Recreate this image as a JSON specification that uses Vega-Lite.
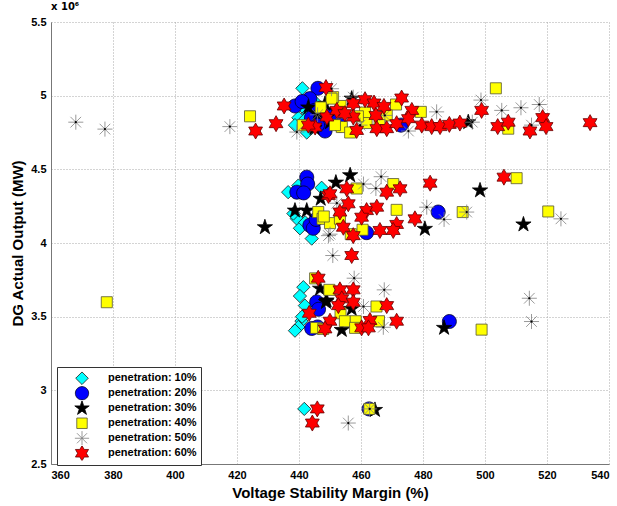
{
  "$schema": "https://vega.github.io/schema/vega-lite/v6.json",
  "width": 558,
  "height": 442,
  "autosize": "none",
  "padding": {"left": 51, "top": 22, "right": 8, "bottom": 42},
  "background": "white",
  "title": {"text": "x 10⁶", "anchor": "start", "frame": "group", "fontSize": 10, "fontWeight": "bold", "font": "DejaVu Sans", "offset": 4, "color": "black"},
  "config": {
    "view": {"stroke": null},
    "axis": {
      "labelFont": "Liberation Sans", "labelFontSize": 11, "labelFontWeight": "bold", "labelColor": "black",
      "titleFont": "Liberation Sans", "titleFontSize": 15, "titleFontWeight": "bold", "titleColor": "black",
      "grid": true, "gridColor": "#a8a8a8", "gridDash": [1, 2], "gridWidth": 1,
      "domainColor": "#777777", "ticks": false, "labelPadding": 5, "titlePadding": 5
    },
    "legend": {
      "orient": "none", "legendX": 6, "legendY": 345, "title": null,
      "strokeColor": "#333333", "fillColor": "white", "padding": 4,
      "symbolOffset": 13, "labelOffset": 18, "symbolSize": 230, "symbolStrokeWidth": 0.8,
      "labelFont": "Liberation Sans", "labelFontSize": 11, "labelFontWeight": "bold", "labelColor": "black",
      "rowPadding": 0, "clipHeight": 14.5
    }
  },
  "data": {"values": [
    {"series": "penetration: 10%", "margin": 441.1, "output": 5050000},
    {"series": "penetration: 10%", "margin": 441.3, "output": 4920000},
    {"series": "penetration: 10%", "margin": 439.8, "output": 4850000},
    {"series": "penetration: 10%", "margin": 438.7, "output": 4800000},
    {"series": "penetration: 10%", "margin": 442.5, "output": 4750000},
    {"series": "penetration: 10%", "margin": 443.0, "output": 4880000},
    {"series": "penetration: 10%", "margin": 445.0, "output": 4960000},
    {"series": "penetration: 10%", "margin": 444.0, "output": 4780000},
    {"series": "penetration: 10%", "margin": 447.0, "output": 4820000},
    {"series": "penetration: 10%", "margin": 446.0, "output": 4900000},
    {"series": "penetration: 10%", "margin": 442.0, "output": 4840000},
    {"series": "penetration: 10%", "margin": 448.0, "output": 4880000},
    {"series": "penetration: 10%", "margin": 436.5, "output": 4345000},
    {"series": "penetration: 10%", "margin": 439.8, "output": 4390000},
    {"series": "penetration: 10%", "margin": 447.3, "output": 4375000},
    {"series": "penetration: 10%", "margin": 439.3, "output": 4165000},
    {"series": "penetration: 10%", "margin": 440.3, "output": 4100000},
    {"series": "penetration: 10%", "margin": 444.1, "output": 4030000},
    {"series": "penetration: 10%", "margin": 438.2, "output": 4200000},
    {"series": "penetration: 10%", "margin": 442.0, "output": 4140000},
    {"series": "penetration: 10%", "margin": 441.0, "output": 4350000},
    {"series": "penetration: 10%", "margin": 441.4, "output": 3700000},
    {"series": "penetration: 10%", "margin": 440.3, "output": 3640000},
    {"series": "penetration: 10%", "margin": 441.9, "output": 3575000},
    {"series": "penetration: 10%", "margin": 440.8, "output": 3470000},
    {"series": "penetration: 10%", "margin": 439.8, "output": 3430000},
    {"series": "penetration: 10%", "margin": 438.7, "output": 3405000},
    {"series": "penetration: 10%", "margin": 441.0, "output": 3500000},
    {"series": "penetration: 10%", "margin": 441.7, "output": 2874000},

    {"series": "penetration: 20%", "margin": 446.1, "output": 5050000},
    {"series": "penetration: 20%", "margin": 438.7, "output": 4930000},
    {"series": "penetration: 20%", "margin": 443.5, "output": 4980000},
    {"series": "penetration: 20%", "margin": 445.0, "output": 4900000},
    {"series": "penetration: 20%", "margin": 447.4, "output": 4830000},
    {"series": "penetration: 20%", "margin": 448.4, "output": 4760000},
    {"series": "penetration: 20%", "margin": 450.0, "output": 4870000},
    {"series": "penetration: 20%", "margin": 453.2, "output": 4800000},
    {"series": "penetration: 20%", "margin": 472.9, "output": 4800000},
    {"series": "penetration: 20%", "margin": 444.0, "output": 4850000},
    {"series": "penetration: 20%", "margin": 441.0, "output": 4960000},
    {"series": "penetration: 20%", "margin": 446.0, "output": 4800000},
    {"series": "penetration: 20%", "margin": 442.5, "output": 4447000},
    {"series": "penetration: 20%", "margin": 442.8, "output": 4400000},
    {"series": "penetration: 20%", "margin": 439.3, "output": 4345000},
    {"series": "penetration: 20%", "margin": 443.5, "output": 4120000},
    {"series": "penetration: 20%", "margin": 444.6, "output": 4100000},
    {"series": "penetration: 20%", "margin": 445.5, "output": 4160000},
    {"series": "penetration: 20%", "margin": 461.8, "output": 4070000},
    {"series": "penetration: 20%", "margin": 484.9, "output": 4210000},
    {"series": "penetration: 20%", "margin": 441.5, "output": 4340000},
    {"series": "penetration: 20%", "margin": 445.7, "output": 3600000},
    {"series": "penetration: 20%", "margin": 446.3, "output": 3550000},
    {"series": "penetration: 20%", "margin": 444.1, "output": 3420000},
    {"series": "penetration: 20%", "margin": 446.0, "output": 3430000},
    {"series": "penetration: 20%", "margin": 488.5, "output": 3467000},
    {"series": "penetration: 20%", "margin": 462.6, "output": 2874000},

    {"series": "penetration: 30%", "margin": 448.4, "output": 4945000},
    {"series": "penetration: 30%", "margin": 457.0, "output": 4980000},
    {"series": "penetration: 30%", "margin": 494.6, "output": 4820000},
    {"series": "penetration: 30%", "margin": 446.0, "output": 4880000},
    {"series": "penetration: 30%", "margin": 450.0, "output": 4820000},
    {"series": "penetration: 30%", "margin": 445.0, "output": 4780000},
    {"series": "penetration: 30%", "margin": 452.0, "output": 4900000},
    {"series": "penetration: 30%", "margin": 443.0, "output": 4920000},
    {"series": "penetration: 30%", "margin": 429.0, "output": 4107000},
    {"series": "penetration: 30%", "margin": 451.9, "output": 4410000},
    {"series": "penetration: 30%", "margin": 456.5, "output": 4460000},
    {"series": "penetration: 30%", "margin": 438.7, "output": 4220000},
    {"series": "penetration: 30%", "margin": 442.5, "output": 4220000},
    {"series": "penetration: 30%", "margin": 498.4, "output": 4357000},
    {"series": "penetration: 30%", "margin": 512.4, "output": 4126000},
    {"series": "penetration: 30%", "margin": 480.6, "output": 4096000},
    {"series": "penetration: 30%", "margin": 447.0, "output": 4300000},
    {"series": "penetration: 30%", "margin": 446.8, "output": 3690000},
    {"series": "penetration: 30%", "margin": 448.7, "output": 3600000},
    {"series": "penetration: 30%", "margin": 457.0, "output": 3553000},
    {"series": "penetration: 30%", "margin": 453.8, "output": 3410000},
    {"series": "penetration: 30%", "margin": 486.8, "output": 3424000},
    {"series": "penetration: 30%", "margin": 448.9, "output": 3610000},
    {"series": "penetration: 30%", "margin": 464.5, "output": 2867000},

    {"series": "penetration: 40%", "margin": 424.2, "output": 4860000},
    {"series": "penetration: 40%", "margin": 441.2, "output": 4800000},
    {"series": "penetration: 40%", "margin": 453.4, "output": 4930000},
    {"series": "penetration: 40%", "margin": 461.3, "output": 4885000},
    {"series": "penetration: 40%", "margin": 471.3, "output": 4940000},
    {"series": "penetration: 40%", "margin": 479.3, "output": 4890000},
    {"series": "penetration: 40%", "margin": 503.5, "output": 5050000},
    {"series": "penetration: 40%", "margin": 507.5, "output": 4776000},
    {"series": "penetration: 40%", "margin": 453.8, "output": 4787000},
    {"series": "penetration: 40%", "margin": 456.5, "output": 4750000},
    {"series": "penetration: 40%", "margin": 461.8, "output": 4814000},
    {"series": "penetration: 40%", "margin": 451.0, "output": 4990000},
    {"series": "penetration: 40%", "margin": 468.3, "output": 4866000},
    {"series": "penetration: 40%", "margin": 450.5, "output": 4980000},
    {"series": "penetration: 40%", "margin": 451.6, "output": 4800000},
    {"series": "penetration: 40%", "margin": 447.0, "output": 4920000},
    {"series": "penetration: 40%", "margin": 459.0, "output": 4860000},
    {"series": "penetration: 40%", "margin": 466.0, "output": 4800000},
    {"series": "penetration: 40%", "margin": 470.4, "output": 4400000},
    {"series": "penetration: 40%", "margin": 458.6, "output": 4370000},
    {"series": "penetration: 40%", "margin": 471.5, "output": 4225000},
    {"series": "penetration: 40%", "margin": 492.8, "output": 4210000},
    {"series": "penetration: 40%", "margin": 510.2, "output": 4440000},
    {"series": "penetration: 40%", "margin": 520.4, "output": 4214000},
    {"series": "penetration: 40%", "margin": 446.2, "output": 4210000},
    {"series": "penetration: 40%", "margin": 447.6, "output": 4164000},
    {"series": "penetration: 40%", "margin": 450.0, "output": 4135000},
    {"series": "penetration: 40%", "margin": 460.5, "output": 4090000},
    {"series": "penetration: 40%", "margin": 456.7, "output": 4060000},
    {"series": "penetration: 40%", "margin": 453.2, "output": 4165000},
    {"series": "penetration: 40%", "margin": 448.0, "output": 4180000},
    {"series": "penetration: 40%", "margin": 445.2, "output": 3760000},
    {"series": "penetration: 40%", "margin": 449.8, "output": 3682000},
    {"series": "penetration: 40%", "margin": 453.4, "output": 3523000},
    {"series": "penetration: 40%", "margin": 454.8, "output": 3469000},
    {"series": "penetration: 40%", "margin": 458.3, "output": 3469000},
    {"series": "penetration: 40%", "margin": 458.1, "output": 3424000},
    {"series": "penetration: 40%", "margin": 465.0, "output": 3569000},
    {"series": "penetration: 40%", "margin": 465.8, "output": 3469000},
    {"series": "penetration: 40%", "margin": 445.5, "output": 3424000},
    {"series": "penetration: 40%", "margin": 447.8, "output": 3417000},
    {"series": "penetration: 40%", "margin": 498.9, "output": 3412000},
    {"series": "penetration: 40%", "margin": 378.0, "output": 3598000},
    {"series": "penetration: 40%", "margin": 462.7, "output": 2874000},

    {"series": "penetration: 50%", "margin": 368.0, "output": 4820000},
    {"series": "penetration: 50%", "margin": 377.4, "output": 4773000},
    {"series": "penetration: 50%", "margin": 417.7, "output": 4790000},
    {"series": "penetration: 50%", "margin": 439.3, "output": 4753000},
    {"series": "penetration: 50%", "margin": 450.5, "output": 5047000},
    {"series": "penetration: 50%", "margin": 484.4, "output": 4890000},
    {"series": "penetration: 50%", "margin": 498.7, "output": 4970000},
    {"series": "penetration: 50%", "margin": 505.4, "output": 4900000},
    {"series": "penetration: 50%", "margin": 511.6, "output": 4918000},
    {"series": "penetration: 50%", "margin": 517.5, "output": 4940000},
    {"series": "penetration: 50%", "margin": 515.0, "output": 4800000},
    {"series": "penetration: 50%", "margin": 495.9, "output": 4820000},
    {"series": "penetration: 50%", "margin": 475.3, "output": 4760000},
    {"series": "penetration: 50%", "margin": 467.7, "output": 4866000},
    {"series": "penetration: 50%", "margin": 457.5, "output": 4990000},
    {"series": "penetration: 50%", "margin": 459.7, "output": 4800000},
    {"series": "penetration: 50%", "margin": 446.0, "output": 4870000},
    {"series": "penetration: 50%", "margin": 460.8, "output": 4400000},
    {"series": "penetration: 50%", "margin": 466.5, "output": 4450000},
    {"series": "penetration: 50%", "margin": 464.8, "output": 4370000},
    {"series": "penetration: 50%", "margin": 481.2, "output": 4243000},
    {"series": "penetration: 50%", "margin": 486.8, "output": 4160000},
    {"series": "penetration: 50%", "margin": 494.1, "output": 4210000},
    {"series": "penetration: 50%", "margin": 524.5, "output": 4164000},
    {"series": "penetration: 50%", "margin": 450.0, "output": 4060000},
    {"series": "penetration: 50%", "margin": 452.2, "output": 4270000},
    {"series": "penetration: 50%", "margin": 449.5, "output": 4050000},
    {"series": "penetration: 50%", "margin": 450.9, "output": 3915000},
    {"series": "penetration: 50%", "margin": 457.8, "output": 3761000},
    {"series": "penetration: 50%", "margin": 467.5, "output": 3682000},
    {"series": "penetration: 50%", "margin": 460.8, "output": 3569000},
    {"series": "penetration: 50%", "margin": 467.2, "output": 3428000},
    {"series": "penetration: 50%", "margin": 514.3, "output": 3625000},
    {"series": "penetration: 50%", "margin": 515.0, "output": 3467000},
    {"series": "penetration: 50%", "margin": 455.9, "output": 2778000},
    {"series": "penetration: 50%", "margin": 462.8, "output": 2874000},

    {"series": "penetration: 60%", "margin": 426.0, "output": 4760000},
    {"series": "penetration: 60%", "margin": 432.6, "output": 4810000},
    {"series": "penetration: 60%", "margin": 435.2, "output": 4930000},
    {"series": "penetration: 60%", "margin": 448.7, "output": 5055000},
    {"series": "penetration: 60%", "margin": 445.2, "output": 4787000},
    {"series": "penetration: 60%", "margin": 449.0, "output": 4855000},
    {"series": "penetration: 60%", "margin": 457.5, "output": 4946000},
    {"series": "penetration: 60%", "margin": 461.3, "output": 4973000},
    {"series": "penetration: 60%", "margin": 464.2, "output": 4950000},
    {"series": "penetration: 60%", "margin": 467.4, "output": 4927000},
    {"series": "penetration: 60%", "margin": 473.1, "output": 4984000},
    {"series": "penetration: 60%", "margin": 476.4, "output": 4900000},
    {"series": "penetration: 60%", "margin": 464.8, "output": 4866000},
    {"series": "penetration: 60%", "margin": 457.5, "output": 4855000},
    {"series": "penetration: 60%", "margin": 458.6, "output": 4764000},
    {"series": "penetration: 60%", "margin": 465.1, "output": 4776000},
    {"series": "penetration: 60%", "margin": 468.3, "output": 4776000},
    {"series": "penetration: 60%", "margin": 471.5, "output": 4810000},
    {"series": "penetration: 60%", "margin": 475.3, "output": 4844000},
    {"series": "penetration: 60%", "margin": 479.6, "output": 4800000},
    {"series": "penetration: 60%", "margin": 482.8, "output": 4790000},
    {"series": "penetration: 60%", "margin": 485.5, "output": 4790000},
    {"series": "penetration: 60%", "margin": 488.5, "output": 4805000},
    {"series": "penetration: 60%", "margin": 491.9, "output": 4814000},
    {"series": "penetration: 60%", "margin": 498.9, "output": 4900000},
    {"series": "penetration: 60%", "margin": 504.1, "output": 4790000},
    {"series": "penetration: 60%", "margin": 507.5, "output": 4820000},
    {"series": "penetration: 60%", "margin": 514.5, "output": 4760000},
    {"series": "penetration: 60%", "margin": 518.6, "output": 4851000},
    {"series": "penetration: 60%", "margin": 519.7, "output": 4790000},
    {"series": "penetration: 60%", "margin": 533.9, "output": 4817000},
    {"series": "penetration: 60%", "margin": 452.2, "output": 4900000},
    {"series": "penetration: 60%", "margin": 454.8, "output": 4878000},
    {"series": "penetration: 60%", "margin": 443.0, "output": 4800000},
    {"series": "penetration: 60%", "margin": 482.3, "output": 4406000},
    {"series": "penetration: 60%", "margin": 506.1, "output": 4447000},
    {"series": "penetration: 60%", "margin": 472.6, "output": 4368000},
    {"series": "penetration: 60%", "margin": 468.3, "output": 4345000},
    {"series": "penetration: 60%", "margin": 455.4, "output": 4368000},
    {"series": "penetration: 60%", "margin": 449.5, "output": 4323000},
    {"series": "penetration: 60%", "margin": 477.4, "output": 4164000},
    {"series": "penetration: 60%", "margin": 461.8, "output": 4220000},
    {"series": "penetration: 60%", "margin": 465.1, "output": 4243000},
    {"series": "penetration: 60%", "margin": 455.9, "output": 4266000},
    {"series": "penetration: 60%", "margin": 453.2, "output": 4210000},
    {"series": "penetration: 60%", "margin": 460.2, "output": 4175000},
    {"series": "penetration: 60%", "margin": 454.3, "output": 4107000},
    {"series": "penetration: 60%", "margin": 466.1, "output": 4085000},
    {"series": "penetration: 60%", "margin": 471.5, "output": 4126000},
    {"series": "penetration: 60%", "margin": 470.4, "output": 4085000},
    {"series": "penetration: 60%", "margin": 457.5, "output": 4050000},
    {"series": "penetration: 60%", "margin": 450.0, "output": 4334000},
    {"series": "penetration: 60%", "margin": 457.0, "output": 3915000},
    {"series": "penetration: 60%", "margin": 446.2, "output": 3761000},
    {"series": "penetration: 60%", "margin": 453.2, "output": 3682000},
    {"series": "penetration: 60%", "margin": 457.5, "output": 3682000},
    {"series": "penetration: 60%", "margin": 453.8, "output": 3621000},
    {"series": "penetration: 60%", "margin": 457.5, "output": 3598000},
    {"series": "penetration: 60%", "margin": 468.3, "output": 3575000},
    {"series": "penetration: 60%", "margin": 443.3, "output": 3523000},
    {"series": "penetration: 60%", "margin": 450.0, "output": 3469000},
    {"series": "penetration: 60%", "margin": 471.5, "output": 3469000},
    {"series": "penetration: 60%", "margin": 462.9, "output": 3474000},
    {"series": "penetration: 60%", "margin": 460.2, "output": 3424000},
    {"series": "penetration: 60%", "margin": 462.4, "output": 3424000},
    {"series": "penetration: 60%", "margin": 448.4, "output": 3417000},
    {"series": "penetration: 60%", "margin": 452.7, "output": 3575000},
    {"series": "penetration: 60%", "margin": 445.9, "output": 2874000},
    {"series": "penetration: 60%", "margin": 444.3, "output": 2778000}
  ]},
  "layer": [
    {
      "mark": {"type": "point", "filled": true, "size": 256, "strokeWidth": 0.8, "opacity": 1},
      "encoding": {
        "x": {"field": "margin", "type": "quantitative",
          "scale": {"domain": [360, 540], "nice": false, "zero": false},
          "axis": {"title": "Voltage Stability Margin (%)", "values": [360, 380, 400, 420, 440, 460, 480, 500, 520, 540]}},
        "y": {"field": "output", "type": "quantitative",
          "scale": {"domain": [2500000, 5500000], "nice": false, "zero": false},
          "axis": {"title": "DG Actual Output (MW)", "values": [2500000, 3000000, 3500000, 4000000, 4500000, 5000000, 5500000],
            "labelExpr": "format(datum.value / 1000000, '~g')"}},
        "shape": {"field": "series", "type": "nominal",
          "scale": {"domain": ["penetration: 10%", "penetration: 20%", "penetration: 30%", "penetration: 40%", "penetration: 50%", "penetration: 60%"],
            "range": [
              "M0,-0.83L0.83,0L0,0.83L-0.83,0Z",
              "M0.875,0A0.875,0.875,0,1,1,-0.875,0A0.875,0.875,0,1,1,0.875,0Z",
              "M0,-1L0.2245,-0.309L0.951,-0.309L0.3633,0.118L0.588,0.809L0,0.382L-0.588,0.809L-0.3633,0.118L-0.951,-0.309L-0.2245,-0.309Z",
              "M-0.69,-0.69L0.69,-0.69L0.69,0.69L-0.69,0.69Z",
              "M-0.94,0L0.94,0M0,-0.94L0,0.94M-0.665,-0.665L0.665,0.665M-0.665,0.665L0.665,-0.665",
              "M0,-1L0.2887,-0.5L0.866,-0.5L0.577,0L0.866,0.5L0.2887,0.5L0,1L-0.2887,0.5L-0.866,0.5L-0.577,0L-0.866,-0.5L-0.2887,-0.5Z"
            ]}},
        "fill": {"field": "series", "type": "nominal",
          "scale": {"domain": ["penetration: 10%", "penetration: 20%", "penetration: 30%", "penetration: 40%", "penetration: 50%", "penetration: 60%"],
            "range": ["#00ffff", "#0000ff", "#000000", "#ffff00", "#808080", "#ff0000"]}},
        "stroke": {"field": "series", "type": "nominal",
          "scale": {"domain": ["penetration: 10%", "penetration: 20%", "penetration: 30%", "penetration: 40%", "penetration: 50%", "penetration: 60%"],
            "range": ["#1a1a1a", "#000022", "#000000", "#555533", "#808080", "#660000"]}}
      }
    },
    {
      "transform": [{"filter": "datum.series == 'penetration: 50%'"}],
      "mark": {"type": "point", "filled": true, "size": 5, "color": "black", "opacity": 1},
      "encoding": {
        "x": {"field": "margin", "type": "quantitative"},
        "y": {"field": "output", "type": "quantitative"}
      }
    }
  ]
}
